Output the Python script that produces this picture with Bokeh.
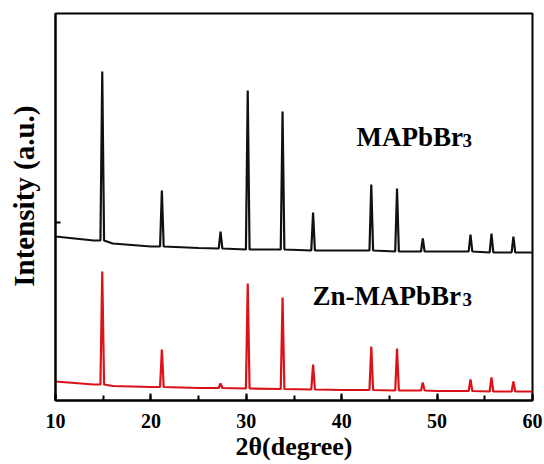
import numpy as np
from bokeh.plotting import figure
from bokeh.models import Range1d, FixedTicker, SingleIntervalTicker, Label
from bokeh.embed import file_html
from bokeh.resources import INLINE

# ---- data (intensity in arbitrary units) ----
peak_pos = [14.9, 21.15, 27.3, 30.15, 33.8, 37.0, 43.1, 45.8, 48.5, 53.5, 55.7, 58.0]

black_top = [328, 209, 168, 309, 288, 187, 215, 211, 161, 165, 166, 163]
black_foot = [159, 153, 151, 150, 150, 149, 149, 148, 148, 148, 147, 147]
black_bg_x = [10, 12, 14, 16, 20, 25, 30, 40, 50, 60]
black_bg_y = [163, 161, 159, 156, 153, 151.5, 150.5, 149, 148, 147]

red_top = [128, 50, 16, 116, 102, 35, 53, 51, 17, 20, 22, 18]
red_foot = [15, 12.5, 11.5, 11, 10.5, 10, 9.5, 9, 9, 8.5, 8, 8]
red_bg_x = [10, 12, 14, 16, 20, 25, 30, 40, 50, 60]
red_bg_y = [18, 16.5, 15, 13.5, 12.5, 11.5, 11, 9.5, 8.5, 8]

HW = 0.19  # half width of a peak's base (degrees)


def build(bg_x, bg_y, pos, top, foot):
    pts = []
    for bx, by in zip(bg_x, bg_y):
        if all(abs(bx - p) > HW for p in pos):
            pts.append((bx, by))
    for p, t, f in zip(pos, top, foot):
        pts.append((p - HW, f))
        pts.append((p, t))
        pts.append((p + HW, f))
    pts.sort()
    return [a for a, _ in pts], [b for _, b in pts]


bx, by = build(black_bg_x, black_bg_y, peak_pos, black_top, black_foot)
rx, ry = build(red_bg_x, red_bg_y, peak_pos, red_top, red_foot)

FONT = "Liberation Serif"

p = figure(width=544, height=464, output_backend="svg", toolbar_location=None,
           x_range=Range1d(10, 60), y_range=Range1d(-1, 386),
           min_border_left=55, min_border_right=12, min_border_top=13, min_border_bottom=64)
p.background_fill_color = "white"
p.border_fill_color = "white"
p.outline_line_color = "black"
p.outline_line_width = 2
p.grid.visible = False

p.line(bx, by, line_color="#111111", line_width=2.2)
p.line(rx, ry, line_color="#dc1219", line_width=2.2)

xa = p.xaxis[0]
xa.ticker = SingleIntervalTicker(interval=10, num_minor_ticks=2)
xa.axis_line_width = 2
xa.major_tick_in = 7
xa.major_tick_out = 0
xa.minor_tick_in = 5
xa.minor_tick_out = 0
xa.major_tick_line_width = 2
xa.minor_tick_line_width = 2
xa.major_label_text_font = FONT
xa.major_label_text_font_style = "bold"
xa.major_label_text_font_size = "20px"
xa.major_label_text_color = "black"
xa.major_label_standoff = 13
xa.axis_label = "2θ(degree)"
xa.axis_label_text_font = FONT
xa.axis_label_text_font_style = "bold"
xa.axis_label_text_font_size = "26px"
xa.axis_label_text_color = "black"
xa.axis_label_standoff = 1

ya = p.yaxis[0]
ya.ticker = FixedTicker(ticks=[177])
ya.axis_line_width = 2
ya.major_tick_in = 5
ya.major_tick_out = 0
ya.major_tick_line_width = 2
ya.minor_tick_line_color = None
ya.major_label_overrides = {177: ""}
ya.major_label_standoff = 0
ya.axis_label = "\u00a0\u00a0\u00a0Intensity (a.u.)"
ya.axis_label_text_font = FONT
ya.axis_label_text_font_style = "bold"
ya.axis_label_text_font_size = "29px"
ya.axis_label_text_color = "black"
ya.axis_label_standoff = 16

common = dict(text_font=FONT, text_color="black")
for txt, x, y in [("MAPbBr", 41.55, 263), ("Zn-MAPbBr", 36.94, 104)]:
    p.add_layout(Label(x=x, y=y, text=txt, text_font_style="bold",
                       text_font_size="27px", text_align="left",
                       text_baseline="alphabetic", **common))
for x, y in [(52.66, 259), (52.66, 100)]:
    p.add_layout(Label(x=x, y=y, text="3", text_font_style="bold",
                       text_font_size="19px", text_align="left",
                       text_baseline="alphabetic", **common))

open("out.html", "w").write(file_html(p, INLINE))
